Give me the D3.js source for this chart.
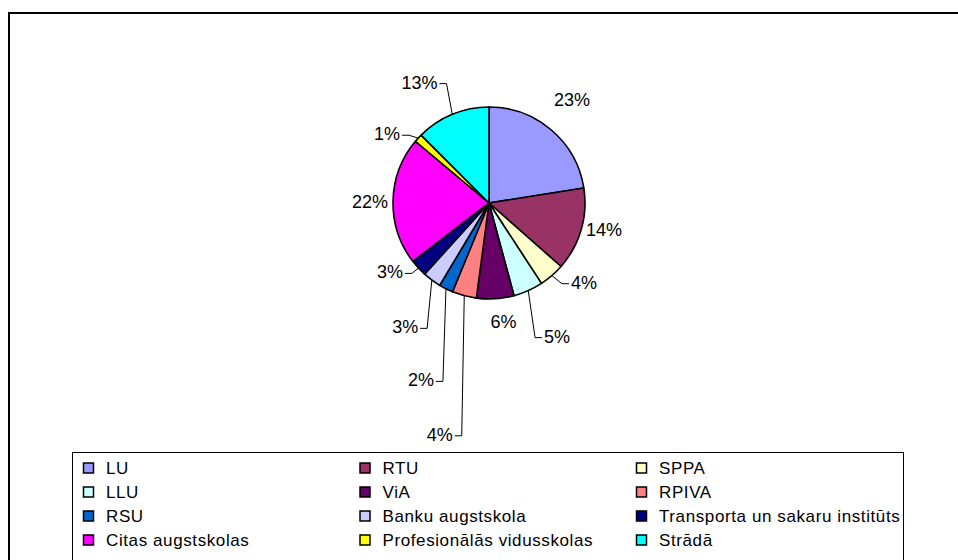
<!DOCTYPE html>
<html>
<head>
<meta charset="utf-8">
<script src="https://cdn.jsdelivr.net/npm/d3@7"></script>
<style>
  body { margin: 0; background: #fff; }
  text { font-family: "Liberation Sans", Arial, sans-serif; fill: #000; }
  .pct { font-size: 18px; }
  .legend text { font-size: 17px; letter-spacing: 0.6px; }
</style>
</head>
<body>
<div id="chart"></div>
<script>
// Data
var categories = ["LU", "RTU", "SPPA", "LLU", "ViA", "RPIVA", "RSU", "Banku augstskola",
  "Transporta un sakaru institūts", "Citas augstskolas", "Profesionālās vidusskolas", "Strādā"];
var shares = [22.5, 14.0, 4.3, 5.0, 6.3, 4.1, 2.4, 3.1, 2.9, 21.5, 1.4, 12.5];
var colors = ["#9999FF", "#993366", "#FFFFCC", "#CCFFFF", "#660066", "#FF8080",
  "#0066CC", "#CCCCFF", "#000080", "#FF00FF", "#FFFF00", "#00FFFF"];

// Label placement (angle in degrees from 12 o'clock, distance from centre, leader line?)
var labelAngle = [39, 103, 130, 153, 173, 192, 201, 214, 235, 270.5, 304, 330];
var labelDist = [132, 118, 124, 150, 120, 237, 190, 150, 121, 119, 123, 139];
var labelLeader = [false, false, true, true, false, true, true, true, true, false, true, true];

var width = 958, height = 560;
var cx = 489, cy = 203, radius = 96;

var svg = d3.select("#chart").append("svg")
    .attr("width", width)
    .attr("height", height);

// chart area border
svg.append("rect")
    .attr("x", 9).attr("y", 13)
    .attr("width", 1000).attr("height", 600)
    .attr("fill", "#fff")
    .attr("stroke", "#000")
    .attr("stroke-width", 2);

var data = categories.map(function(c, i) {
  return { name: c, value: shares[i], color: colors[i], ang: labelAngle[i], dist: labelDist[i], leader: labelLeader[i] };
});

var pie = d3.pie()
    .sort(null)
    .value(function(d) { return d.value; });

var arc = d3.arc()
    .innerRadius(0)
    .outerRadius(radius);

var arcs = pie(data);

var g = svg.append("g")
    .attr("transform", "translate(" + cx + "," + cy + ")");

g.selectAll(".slice")
    .data(arcs)
  .enter().append("path")
    .attr("class", "slice")
    .attr("d", arc)
    .attr("fill", function(d) { return d.data.color; })
    .attr("stroke", "#000")
    .attr("stroke-width", 1.6)
    .attr("stroke-linejoin", "round");

function polar(a, r) {
  return [r * Math.sin(a), -r * Math.cos(a)];
}

// percentage labels
var labels = g.selectAll(".pct")
    .data(arcs)
  .enter().append("text")
    .attr("class", "pct")
    .attr("text-anchor", "middle")
    .attr("dominant-baseline", "central")
    .attr("x", function(d) { return polar(d.data.ang * Math.PI / 180, d.data.dist)[0]; })
    .attr("y", function(d) { return polar(d.data.ang * Math.PI / 180, d.data.dist)[1]; })
    .text(function(d) { return Math.round(d.data.value) + "%"; });

// leader lines
labels.each(function(d) {
  if (!d.data.leader) return;
  var bb = this.getBBox();
  var mid = (d.startAngle + d.endAngle) / 2;
  var p0 = polar(mid, radius);
  var ly = bb.y + bb.height / 2 + 1;
  var right = bb.x + bb.width / 2 > 0;
  var edge = right ? bb.x - 2 : bb.x + bb.width + 2;
  var knee = right ? edge - 7 : edge + 7;
  g.append("polyline")
      .attr("points", [p0, [knee, ly], [edge, ly]].map(function(p) { return p.join(","); }).join(" "))
      .attr("fill", "none")
      .attr("stroke", "#000")
      .attr("stroke-width", 1);
});

// Legend
var legend = svg.append("g").attr("class", "legend");

legend.append("rect")
    .attr("x", 72.5).attr("y", 452.5)
    .attr("width", 831).attr("height", 200)
    .attr("fill", "#fff")
    .attr("stroke", "#000")
    .attr("stroke-width", 1);

var colX = d3.scaleLinear().domain([0, 2]).range([83, 636]);
var rowY = d3.scaleLinear().domain([0, 3]).range([468, 540]);

var item = legend.selectAll(".item")
    .data(data)
  .enter().append("g")
    .attr("class", "item")
    .attr("transform", function(d, i) { return "translate(" + colX(i % 3) + "," + rowY(Math.floor(i / 3)) + ")"; });

item.append("rect")
    .attr("x", 0.5).attr("y", -5)
    .attr("width", 10).attr("height", 10)
    .attr("fill", function(d) { return d.color; })
    .attr("stroke", "#000")
    .attr("stroke-width", 1.5);

item.append("text")
    .attr("x", 23)
    .attr("y", 0)
    .attr("dominant-baseline", "central")
    .text(function(d) { return d.name; });
</script>
</body>
</html>
